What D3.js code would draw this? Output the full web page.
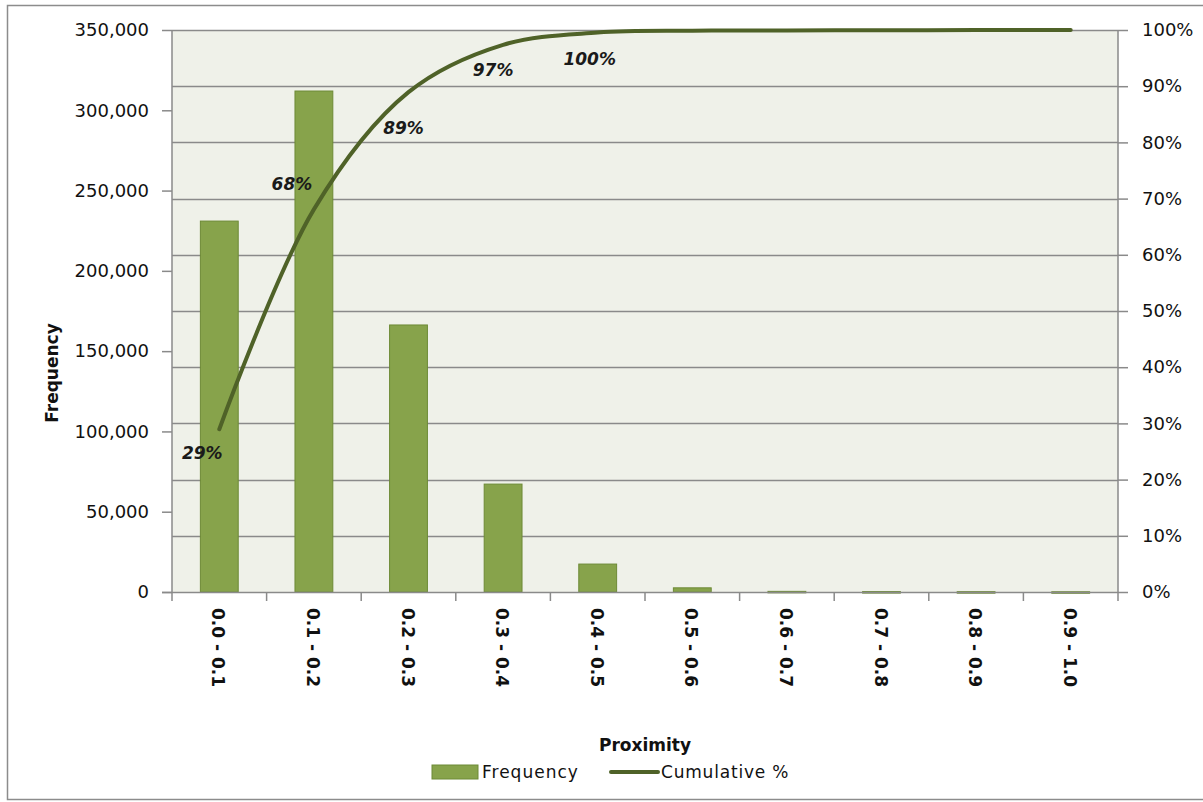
<!DOCTYPE html>
<html>
<head>
<meta charset="utf-8">
<script src="https://cdn.jsdelivr.net/npm/d3@7"></script>
<style>
  html, body { margin: 0; padding: 0; background: #fff; }
  svg { display: block; font-family: "DejaVu Sans", Verdana, sans-serif; }
</style>
</head>
<body>
<svg id="chart" width="1203" height="802"></svg>
<script>
// Proximity bins and how many records fall into each
const categories = ["0.0 - 0.1", "0.1 - 0.2", "0.2 - 0.3", "0.3 - 0.4", "0.4 - 0.5",
                    "0.5 - 0.6", "0.6 - 0.7", "0.7 - 0.8", "0.8 - 0.9", "0.9 - 1.0"];
const frequency = [231000, 312000, 166300, 67200, 17400, 2600, 400, 250, 200, 150];

// Axis ticks
const freqTicks = [0, 50000, 100000, 150000, 200000, 250000, 300000, 350000];
const pctTicks = [0, 0.1, 0.2, 0.3, 0.4, 0.5, 0.6, 0.7, 0.8, 0.9, 1.0];

// Bins whose cumulative share is printed on the line
const labelledBins = [0, 1, 2, 3, 4];

// Running share of all records
const total = d3.sum(frequency);
const cumulative = d3.cumsum(frequency).map(v => v / total);

const FONT = "'DejaVu Sans', Verdana, sans-serif";
const svg = d3.select("#chart");
const m = { left: 172, right: 1118, top: 30, bottom: 592 };

const x = d3.scaleBand().domain(categories).range([m.left, m.right]).paddingInner(0).paddingOuter(0);
const yL = d3.scaleLinear().domain([0, 350000]).range([m.bottom, m.top]);
const yR = d3.scaleLinear().domain([0, 1]).range([m.bottom, m.top]);

const gridColor = "#8a8a8a";
const barFill = "#87a34b";
const barStroke = "#6d8a36";
const lineColor = "#4f6228";

// Outer chart frame
svg.append("rect").attr("x", 7.5).attr("y", 5.5).attr("width", 1200).attr("height", 794)
  .attr("fill", "#fff").attr("stroke", "#8c8c8c").attr("stroke-width", 1.5);

// Plot background
svg.append("rect").attr("x", m.left).attr("y", m.top)
  .attr("width", m.right - m.left).attr("height", m.bottom - m.top)
  .attr("fill", "#eff1e9");

// Horizontal gridlines follow the percentage axis
svg.append("g").selectAll("line").data(pctTicks.slice(1)).join("line")
  .attr("x1", m.left).attr("x2", m.right)
  .attr("y1", d => Math.round(yR(d)) + 0.5).attr("y2", d => Math.round(yR(d)) + 0.5)
  .attr("stroke", gridColor).attr("stroke-width", 1.3);

// Bars
const bw = x.bandwidth() * 0.4;
svg.append("g").selectAll("rect").data(frequency).join("rect")
  .attr("x", (d, i) => x(categories[i]) + (x.bandwidth() - bw) / 2)
  .attr("y", d => yL(d))
  .attr("width", bw)
  .attr("height", d => Math.max(1.5, m.bottom - yL(d)))
  .attr("fill", barFill).attr("stroke", barStroke).attr("stroke-width", 1);

// Left axis
const axL = svg.append("g").attr("transform", `translate(${m.left},0)`)
  .call(d3.axisLeft(yL).tickValues(freqTicks).tickFormat(d3.format(",")).tickSize(10).tickPadding(13));
// Right axis
const axR = svg.append("g").attr("transform", `translate(${m.right},0)`)
  .call(d3.axisRight(yR).tickValues(pctTicks).tickFormat(d3.format(".0%")).tickSize(10).tickPadding(14));

// Bottom axis: ticks sit on the bin boundaries, labels run downward
const axB = svg.append("g").attr("transform", `translate(0,${m.bottom})`);
axB.append("line").attr("x1", m.left - 10).attr("x2", m.right).attr("y1", 0.5).attr("y2", 0.5)
  .attr("stroke", gridColor).attr("stroke-width", 1.5);
axB.selectAll("line.bound").data(d3.range(categories.length + 1)).join("line")
  .attr("class", "bound")
  .attr("x1", i => m.left + i * x.step()).attr("x2", i => m.left + i * x.step())
  .attr("y1", 0).attr("y2", 9).attr("stroke", gridColor).attr("stroke-width", 1.5);
axB.selectAll("text.cat").data(categories).join("text")
  .attr("class", "cat")
  .attr("transform", d => `translate(${x(d) + x.bandwidth() / 2 - 1},16) rotate(90)`)
  .attr("text-anchor", "start").attr("dominant-baseline", "central")
  .attr("font-family", FONT).attr("font-size", 17).attr("font-weight", "bold").attr("fill", "#111")
  .text(d => d);

[axL, axR].forEach(ax => {
  ax.select(".domain").attr("stroke", gridColor).attr("stroke-width", 1.5)
    .attr("d", `M0,${m.top}V${m.bottom}`);
  ax.selectAll(".tick line").attr("stroke", gridColor).attr("stroke-width", 1.5);
  ax.selectAll(".tick text").attr("font-size", 18).attr("fill", "#111").attr("font-family", FONT);
});

// Cumulative line
const line = d3.line()
  .x((d, i) => x(categories[i]) + x.bandwidth() / 2)
  .y(d => yR(d))
  .curve(d3.curveCatmullRom.alpha(0.5));
svg.append("path").datum(cumulative)
  .attr("d", line).attr("fill", "none")
  .attr("stroke", lineColor).attr("stroke-width", 4).attr("stroke-linecap", "round");

// Cumulative labels, nudged off the line
const labelNudge = [[-17, 24], [-22, -25], [-5, 36], [-10, 25], [-8, 26]];
svg.append("g").selectAll("text").data(labelledBins).join("text")
  .attr("x", (b, k) => x(categories[b]) + x.bandwidth() / 2 + labelNudge[k][0])
  .attr("y", (b, k) => yR(cumulative[b]) + labelNudge[k][1])
  .attr("text-anchor", "middle").attr("dominant-baseline", "central")
  .attr("font-size", 17).attr("font-weight", "bold").attr("font-style", "italic").attr("fill", "#1a1a1a")
  .text(b => d3.format(".0%")(cumulative[b]));

// Axis titles
svg.append("text")
  .attr("transform", `translate(52,373) rotate(-90)`)
  .attr("text-anchor", "middle").attr("dominant-baseline", "central")
  .attr("font-size", 17).attr("font-weight", "bold").attr("fill", "#111")
  .text("Frequency");
svg.append("text")
  .attr("x", (m.left + m.right) / 2).attr("y", 745)
  .attr("text-anchor", "middle").attr("dominant-baseline", "central")
  .attr("font-size", 17).attr("font-weight", "bold").attr("fill", "#111")
  .text("Proximity");

// Legend
const lg = svg.append("g");
lg.append("rect").attr("x", 432).attr("y", 765).attr("width", 46).attr("height", 14)
  .attr("fill", barFill).attr("stroke", barStroke);
lg.append("text").attr("x", 482).attr("y", 772).attr("dominant-baseline", "central")
  .attr("font-size", 17).attr("letter-spacing", 1).attr("fill", "#111").text("Frequency");
lg.append("line").attr("x1", 611).attr("x2", 658).attr("y1", 772).attr("y2", 772)
  .attr("stroke", lineColor).attr("stroke-width", 4).attr("stroke-linecap", "round");
lg.append("text").attr("x", 661).attr("y", 772).attr("dominant-baseline", "central")
  .attr("font-size", 17).attr("letter-spacing", 0.8).attr("fill", "#111").text("Cumulative %");
</script>
</body>
</html>
